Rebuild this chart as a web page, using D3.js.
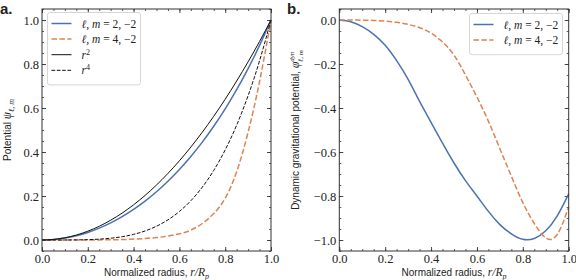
<!DOCTYPE html>
<html>
<head>
<meta charset="utf-8">
<script src="https://cdn.jsdelivr.net/npm/d3@7"></script>
<style>
  body { margin: 0; background: #fff; }
  text { fill: #222; }
</style>
</head>
<body>
<div id="chart"></div>
<script>
// radius grid shared by all series (r / R_p)
const radius = [0, .05, .1, .15, .2, .25, .3, .35, .4, .45, .5, .55, .6, .65, .7, .75, .8, .85, .9, .95, 1];

// panel a: potential psi
const psiL2 = [0, .0022, .0086, .0194, .0344, .0539, .0777, .1061, .139, .1767, .2194, .2672, .3205, .3796, .4449, .517, .5963, .6835, .7792, .8845, 1.0];
const psiL4 = [0, 0, 0, 0, .0002, .0005, .001, .002, .004, .007, .011, .018, .028, .045, .075, .12, .19, .31, .49, .72, 1.0];
const rSquared = [0, .0025, .01, .0225, .04, .0625, .09, .1225, .16, .2025, .25, .3025, .36, .4225, .49, .5625, .64, .7225, .81, .9025, 1];
const rFourth = [0, 0, .0001, .0005, .0016, .0039, .0081, .015, .0256, .041, .0625, .0915, .1296, .1785, .2401, .3164, .4096, .522, .6561, .8145, 1];

// panel b: dynamic gravitational potential phi
const phiL2 = [0, -.008, -.03, -.065, -.115, -.185, -.27, -.37, -.465, -.56, -.65, -.73, -.80, -.87, -.93, -.972, -.997, -.993, -.958, -.89, -.79];
const phiL4 = [0, 0, -.001, -.002, -.005, -.01, -.02, -.035, -.06, -.1, -.16, -.25, -.35, -.46, -.585, -.71, -.83, -.925, -.99, -.975, -.85];

const xTicks = [0, .2, .4, .6, .8, 1];
const yTicksA = [0, .2, .4, .6, .8, 1];
const yTicksB = [0, -.2, -.4, -.6, -.8, -1];

const blue = "#4c72b0", orange = "#dd8452", ink = "#333";
const serif = "'Liberation Serif', serif", sans = "'Liberation Sans', Arial, sans-serif";

const svg = d3.select("#chart").append("svg")
    .attr("width", 576).attr("height", 280);

const fmt = d3.format(".1f");
const zip = ys => radius.map((r, i) => [r, ys[i]]);

function drawPanel(p) {
    const x = d3.scaleLinear().domain([0, 1]).range([p.left, p.right]);
    const y = d3.scaleLinear().domain(p.yDomain).range([251, 9]);
    const g = svg.append("g");

    const minorX = d3.range(0, 1.0001, 0.05);
    const minorY = d3.range(p.yDomain[0], p.yDomain[1] + 1e-6, 0.05).map(v => Math.round(v * 100) / 100);

    // axes: labelled bottom/left, bare top/right, ticks pointing in
    const axes = [
        [d3.axisBottom(x), 251, 0, true, xTicks, minorX],
        [d3.axisTop(x), 9, 0, false, xTicks, minorX],
        [d3.axisLeft(y), p.left, 1, true, p.yTicks, minorY],
        [d3.axisRight(y), p.right, 1, false, p.yTicks, minorY]
    ];
    axes.forEach(([ax, pos, vert, lab, major, minor]) => {
        const tr = vert ? `translate(${pos},0)` : `translate(0,${pos})`;
        const mk = ax.scale();
        const minorAxis = (vert ? (pos === p.left ? d3.axisLeft(mk) : d3.axisRight(mk))
                                : (pos === 251 ? d3.axisBottom(mk) : d3.axisTop(mk)))
            .tickValues(minor).tickSize(-2).tickFormat("");
        g.append("g").attr("transform", tr).call(minorAxis)
            .call(a => a.select(".domain").remove())
            .selectAll("line").attr("stroke", ink).attr("stroke-width", 0.8);
        ax.tickValues(major).tickSize(-4).tickPadding(3)
            .tickFormat(lab ? fmt : "");
        g.append("g").attr("transform", tr).call(ax)
            .call(a => a.select(".domain").remove())
            .call(a => a.selectAll("line").attr("stroke", ink).attr("stroke-width", 0.9))
            .call(a => a.selectAll("text").attr("fill", "#222")
                .style("font-family", serif).style("font-size", "12.5px"));
    });

    const line = d3.line().x(d => x(d[0])).y(d => y(d[1])).curve(d3.curveNatural);
    p.series.forEach(s => {
        g.append("path").datum(zip(s.values))
            .attr("fill", "none").attr("stroke", s.color)
            .attr("stroke-width", s.width)
            .attr("stroke-dasharray", s.dash || null)
            .attr("d", line);
    });

    g.append("rect").attr("x", p.left).attr("y", 9)
        .attr("width", p.right - p.left).attr("height", 242)
        .attr("fill", "none").attr("stroke", ink).attr("stroke-width", 1);

    // legend
    const lg = g.append("g").attr("transform", `translate(${p.legend[0]},${p.legend[1]})`);
    lg.append("rect").attr("width", 93).attr("height", 10 + p.series.length * 15.6)
        .attr("rx", 2.5).attr("fill", "#fff").attr("fill-opacity", 0.85)
        .attr("stroke", "#ccc").attr("stroke-width", 0.8);
    p.series.forEach((s, i) => {
        const yy = 11 + i * 15.6;
        lg.append("line").attr("x1", 4).attr("x2", 24).attr("y1", yy).attr("y2", yy)
            .attr("stroke", s.color).attr("stroke-width", s.width)
            .attr("stroke-dasharray", s.dash || null);
        const t = lg.append("text").attr("x", 34).attr("y", yy + 4)
            .style("font-family", serif).style("font-size", "11.5px");
        s.label(t);
    });

    // x label
    const xl = g.append("text").attr("x", (p.left + p.right) / 2).attr("y", 276)
        .attr("text-anchor", "middle").style("font-family", sans).style("font-size", "10px");
    xl.append("tspan").text("Normalized radius, ");
    xl.append("tspan").style("font-family", serif).style("font-style", "italic")
        .style("font-size", "11.5px").text("r/R");
    xl.append("tspan").style("font-family", serif).style("font-style", "italic")
        .style("font-size", "8px").attr("dy", 2.5).text("p");

    // y label
    const yl = g.append("text")
        .attr("transform", `translate(${p.ylabelX},130) rotate(-90)`)
        .attr("text-anchor", "middle").style("font-family", sans).style("font-size", "10px");
    p.ylabel(yl);

    // panel letter
    svg.append("text").attr("x", p.letterX).attr("y", 14)
        .style("font-family", sans).style("font-weight", "bold").style("font-size", "15px")
        .text(p.letter);
}

const ellLabel = n => t => {
    t.append("tspan").style("font-style", "italic").text("ℓ");
    t.append("tspan").text(", ");
    t.append("tspan").style("font-style", "italic").text("m");
    t.append("tspan").text(` = ${n}, −2`);
};
const powLabel = n => t => {
    t.append("tspan").style("font-style", "italic").text("r");
    t.append("tspan").attr("dy", -4).style("font-size", "8px").text(n);
};

drawPanel({
    left: 42, right: 271, letter: "a.", letterX: 0, ylabelX: 11,
    yDomain: [-0.05, 1.05], yTicks: yTicksA, legend: [47.5, 12.5],
    series: [
        { values: psiL2, color: blue, width: 1.5, label: ellLabel(2) },
        { values: psiL4, color: orange, width: 1.5, dash: "5.5,2.4", label: ellLabel(4) },
        { values: rSquared, color: "#111", width: 1, label: powLabel(2) },
        { values: rFourth, color: "#111", width: 1, dash: "3.7,1.6", label: powLabel(4) }
    ],
    ylabel: t => {
        t.append("tspan").text("Potential ");
        t.append("tspan").style("font-family", serif).style("font-style", "italic")
            .style("font-size", "11.5px").text("ψ");
        t.append("tspan").style("font-family", serif).style("font-style", "italic")
            .style("font-size", "8px").attr("dy", 2.5).text("ℓ, m");
    }
});

drawPanel({
    left: 339.3, right: 568.7, letter: "b.", letterX: 287, ylabelX: 299,
    yDomain: [-1.05, 0.05], yTicks: yTicksB, legend: [469.5, 13.5],
    series: [
        { values: phiL2, color: blue, width: 1.5, label: ellLabel(2) },
        { values: phiL4, color: orange, width: 1.5, dash: "5.5,2.4", label: ellLabel(4) }
    ],
    ylabel: t => {
        t.append("tspan").text("Dynamic gravitational potential, ");
        t.append("tspan").style("font-family", serif).style("font-style", "italic")
            .style("font-size", "11.5px").text("φ");
        t.append("tspan").style("font-family", serif).style("font-style", "italic")
            .style("font-size", "7px").attr("dy", -5).text("dyn");
        t.append("tspan").style("font-family", serif).style("font-style", "italic")
            .style("font-size", "7px").attr("dx", -10).attr("dy", 8.5).text("ℓ, m");
    }
});
</script>
</body>
</html>
